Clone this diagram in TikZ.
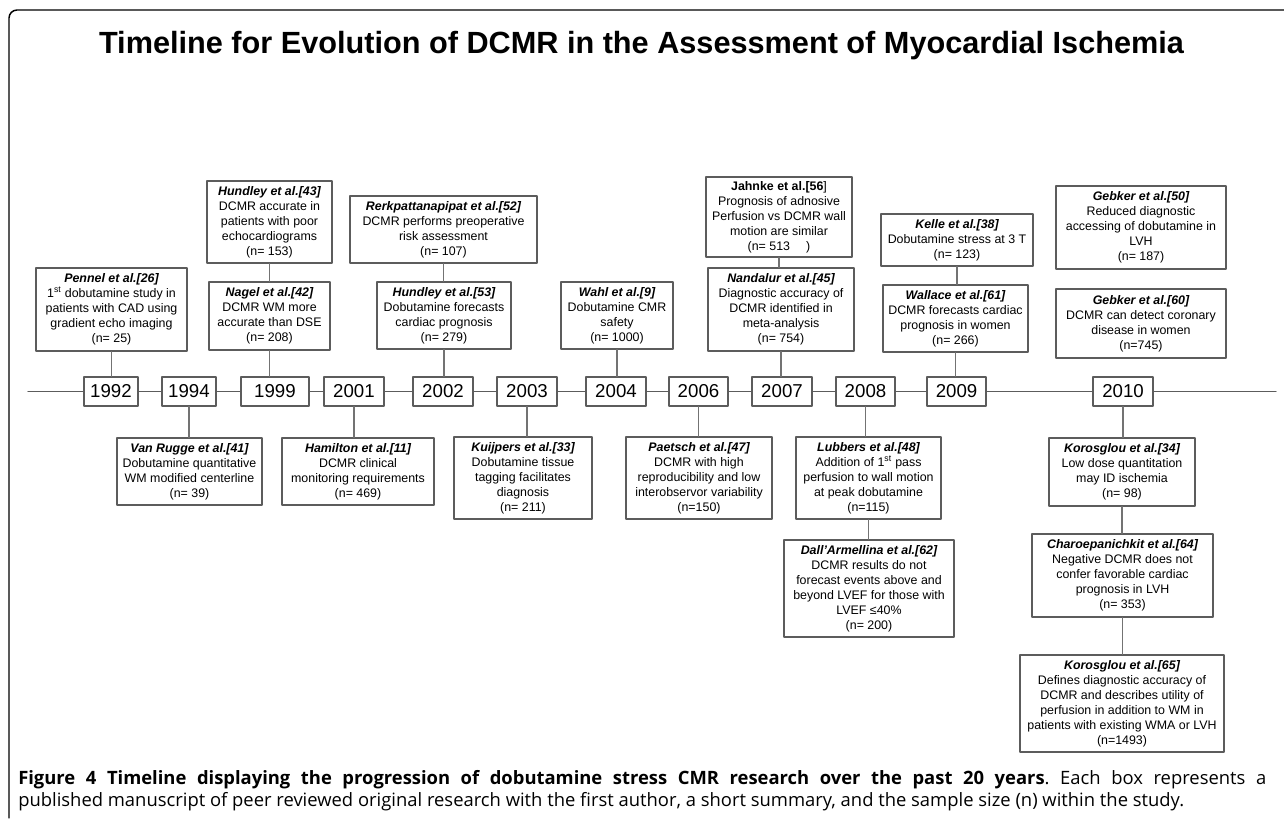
\documentclass[tikz,border=0pt]{standalone}
\usepackage{fontspec}
\setmainfont{Liberation Sans}
\newfontfamily\capfont{Open Sans}
\begin{document}
\begin{tikzpicture}[x=0.75pt,y=-0.75pt,line join=round,line cap=round,font=\fontsize{9.3}{11.2}\selectfont]
		%\draw[gray!50] (0,0) grid[step=50] (1284,821);
		\definecolor{boxgray}{rgb}{0.36,0.36,0.36}
		\definecolor{linkgray}{rgb}{0.45,0.45,0.45}
		\def\au#1{{\bfseries\itshape #1}}
		\tikzset{
			paper/.style={draw=boxgray,line width=0.8pt,fill=white,align=center,inner sep=2pt},
			yr/.style={draw=boxgray,line width=0.8pt,fill=white,minimum height=21.75pt,inner sep=0pt,font=\fontsize{14}{16}\selectfont},
			lnk/.style={draw=linkgray,line width=0.8pt}
		}
		\useasboundingbox (0,0) rectangle (1284,821);
		
		\draw[line width=1.1pt,rounded corners=6pt] (1284,10) -- (9,10) -- (9,818);
		\node[anchor=base,font=\fontsize{23}{26}\selectfont\bfseries] (title) at (641.5,53) {Timeline for Evolution of DCMR in the Assessment of Myocardial Ischemia};
		
		% the time axis
		\coordinate (t0) at (28,391.5);
		\coordinate (t1) at (1276,391.5);
		\draw[boxgray,line width=1pt] (t0) -- (t1);
		
		\node[yr,minimum width=40.5pt] (y1992) at (111,391.5) {1992};
		\node[yr,minimum width=40.5pt] (y1994) at (189,391.5) {1994};
		\node[yr,minimum width=51pt] (y1999) at (275,391.5) {1999};
		\node[yr,minimum width=45pt] (y2001) at (354,391.5) {2001};
		\node[yr,minimum width=45pt] (y2002) at (443,391.5) {2002};
		\node[yr,minimum width=45pt] (y2003) at (527,391.5) {2003};
		\node[yr,minimum width=45pt] (y2004) at (616,391.5) {2004};
		\node[yr,minimum width=44.25pt] (y2006) at (698.5,391.5) {2006};
		\node[yr,minimum width=45pt] (y2007) at (782,391.5) {2007};
		\node[yr,minimum width=44.25pt] (y2008) at (865.5,391.5) {2008};
		\node[yr,minimum width=44.25pt] (y2009) at (956.5,391.5) {2009};
		\node[yr,minimum width=45pt] (y2010) at (1123,391.5) {2010};
		
		% above the axis
		\node[paper,minimum width=113.25pt,minimum height=62.25pt] (pennel) at (111.5,309.5)
		{\au{Pennel et al.[26]}\\1\textsuperscript{st} dobutamine study in\\patients with CAD using\\gradient echo imaging\\(n= 25)};
		\node[paper,minimum width=93.75pt,minimum height=61.5pt] (hundleyA) at (269.5,222)
		{\au{Hundley et al.[43]}\\DCMR accurate in\\patients with poor\\echocardiograms\\(n= 153)};
		\node[paper,minimum width=90.75pt,minimum height=51pt] (nagel) at (269.5,316)
		{\au{Nagel et al.[42]}\\DCMR WM more\\accurate than DSE\\(n= 208)};
		\node[paper,minimum width=140.25pt,minimum height=50.25pt] (rerk) at (443.5,229.5)
		{\au{Rerkpattanapipat et al.[52]}\\DCMR performs preoperative\\risk assessment\\(n= 107)};
		\node[paper,minimum width=100.5pt,minimum height=50.25pt] (hundleyB) at (444,315.5)
		{\au{Hundley et al.[53]}\\Dobutamine forecasts\\cardiac prognosis\\(n= 279)};
		\node[paper,minimum width=84pt,minimum height=50.25pt] (wahl) at (617,315.5)
		{\au{Wahl et al.[9]}\\Dobutamine CMR\\safety\\(n= 1000)};
		\node[paper,minimum width=109.5pt,minimum height=60pt] (jahnke) at (779,217)
		{{\bfseries Jahnke et al.[56}]\\Prognosis of adnosive\\Perfusion vs DCMR wall\\motion are similar\\(n= 513\hspace{1.3em})};
		\node[paper,minimum width=109.5pt,minimum height=62.25pt] (nandalur) at (781,309.5)
		{\au{Nandalur et al.[45]}\\Diagnostic accuracy of\\DCMR identified in\\meta-analysis\\(n= 754)};
		\node[paper,minimum width=114pt,minimum height=39pt] (kelle) at (957,240)
		{\au{Kelle et al.[38]}\\Dobutamine stress at 3 T\\(n= 123)};
		\node[paper,minimum width=108.75pt,minimum height=50.25pt] (wallace) at (955.5,318.5)
		{\au{Wallace et al.[61]}\\DCMR forecasts cardiac\\prognosis in women\\(n= 266)};
		\node[paper,minimum width=127.5pt,minimum height=62.25pt] (gebkerA) at (1141,227.5)
		{\au{Gebker et al.[50]}\\Reduced diagnostic\\accessing of dobutamine in\\LVH\\(n= 187)};
		\node[paper,minimum width=127.5pt,minimum height=51.75pt] (gebkerB) at (1141,323.5)
		{\au{Gebker et al.[60]}\\DCMR can detect coronary\\disease in women\\(n=745)};
		
		% below the axis
		\node[paper,minimum width=108.75pt,minimum height=50.25pt] (vanrugge) at (189.5,471.5)
		{\au{Van Rugge et al.[41]}\\Dobutamine quantitative\\WM modified centerline\\(n= 39)};
		\node[paper,minimum width=114pt,minimum height=50.25pt] (hamilton) at (358,471.5)
		{\au{Hamilton et al.[11]}\\DCMR clinical\\monitoring requirements\\(n= 469)};
		\node[paper,minimum width=103.5pt,minimum height=61.5pt] (kuijpers) at (523,478)
		{\au{Kuijpers et al.[33]}\\Dobutamine tissue\\tagging facilitates\\diagnosis\\(n= 211)};
		\node[paper,minimum width=109.5pt,minimum height=61.5pt] (paetsch) at (699,478)
		{\au{Paetsch et al.[47]}\\DCMR with high\\reproducibility and low\\interobservor variability\\(n=150)};
		\node[paper,minimum width=108.75pt,minimum height=61.5pt] (lubbers) at (868.5,478)
		{\au{Lubbers et al.[48]}\\Addition of 1\textsuperscript{st} pass\\perfusion to wall motion\\at peak dobutamine\\(n=115)};
		\node[paper,minimum width=127.5pt,minimum height=72.75pt] (dall) at (869,588.5)
		{\au{Dall’Armellina et al.[62]}\\DCMR results do not\\forecast events above and\\beyond LVEF for those with\\LVEF ≤40\%\\(n= 200)};
		\node[paper,minimum width=109.5pt,minimum height=51pt] (korosA) at (1122,472)
		{\au{Korosglou et al.[34]}\\Low dose quantitation\\may ID ischemia\\(n= 98)};
		\node[paper,minimum width=135.75pt,minimum height=62.25pt] (charo) at (1122.5,575.5)
		{\au{Charoepanichkit et al.[64]}\\Negative DCMR does not\\confer favorable cardiac\\prognosis in LVH\\(n= 353)};
		\node[paper,minimum width=153pt,minimum height=72.75pt] (korosB) at (1122,703.5)
		{\au{Korosglou et al.[65]}\\Defines diagnostic accuracy of\\DCMR and describes utility of\\perfusion in addition to WM in\\patients with existing WMA or LVH\\(n=1493)};
		
		\draw[lnk] (pennel.south) -- (pennel.south |- y1992.north);
		\draw[lnk] (hundleyA.south) -- (hundleyA.south |- nagel.north);
		\draw[lnk] (nagel.south) -- (nagel.south |- y1999.north);
		\draw[lnk] (rerk.south) -- (rerk.south |- hundleyB.north);
		\draw[lnk] (hundleyB.south) -- (hundleyB.south |- y2002.north);
		\draw[lnk] (wahl.south) -- (wahl.south |- y2004.north);
		\draw[lnk] (jahnke.south) -- (jahnke.south |- nandalur.north);
		\draw[lnk] (nandalur.south) -- (nandalur.south |- y2007.north);
		\draw[lnk] (kelle.south) -- (kelle.south |- wallace.north);
		\draw[lnk] (wallace.south) -- (wallace.south |- y2009.north);
		\draw[lnk] (y1994.south) -- (y1994.south |- vanrugge.north);
		\draw[lnk] (y2001.south) -- (y2001.south |- hamilton.north);
		\draw[lnk] (y2003.south) -- (y2003.south |- kuijpers.north);
		\draw[lnk] (y2006.south) -- (y2006.south |- paetsch.north);
		\draw[lnk] (y2008.south) -- (y2008.south |- lubbers.north);
		\draw[lnk] (lubbers.south) -- (lubbers.south |- dall.north);
		\draw[lnk] (y2010.south) -- (y2010.south |- korosA.north);
		\draw[lnk] (korosA.south) -- (korosA.south |- charo.north);
		\draw[lnk] (charo.south) -- (charo.south |- korosB.north);
		
		\node[anchor=north west,text width=936pt,align=justify,inner sep=0pt,font=\capfont\fontsize{13.8}{16.5}\selectfont\frenchspacing] (caption) at (18,770)
		{\textbf{Figure 4 Timeline displaying the progression of dobutamine stress CMR research over the past 20 years}. Each box represents a\linebreak
			published manuscript of peer reviewed original research with the first author, a short summary, and the sample size (n) within the study.};
	\end{tikzpicture}
\end{document}
